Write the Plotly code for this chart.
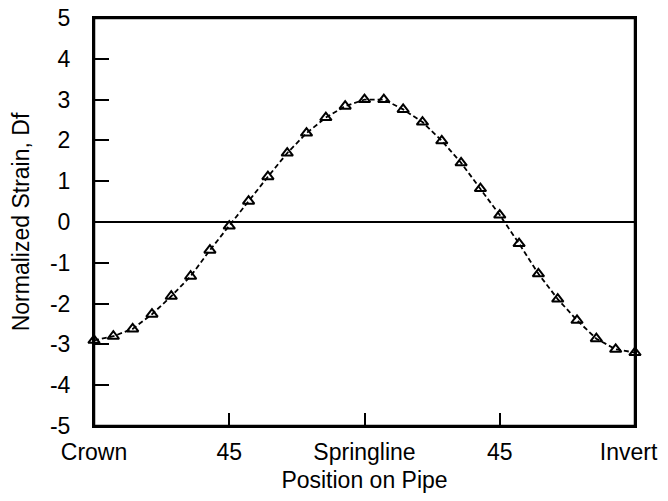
import plotly.graph_objects as go

# Position on pipe (degrees from crown), 29 equally spaced gauges
position_deg = [0, 6.43, 12.86, 19.29, 25.71, 32.14, 38.57, 45, 51.43, 57.86,
                64.29, 70.71, 77.14, 83.57, 90, 96.43, 102.86, 109.29, 115.71,
                122.14, 128.57, 135, 141.43, 147.86, 154.29, 160.71, 167.14,
                173.57, 180]
strain_df = [-2.9, -2.8, -2.62, -2.26, -1.82, -1.33, -0.69, -0.1, 0.51, 1.11,
             1.69, 2.18, 2.56, 2.84, 3.0, 3.0, 2.76, 2.45, 1.99, 1.45,
             0.82, 0.17, -0.53, -1.27, -1.89, -2.41, -2.86, -3.12, -3.2]

x_tick_vals = [0, 45, 90, 135, 180]
x_tick_text = ["Crown", "45", "Springline", "45", "Invert\u00a0\u00a0"]
y_tick_vals = [-5, -4, -3, -2, -1, 0, 1, 2, 3, 4, 5]
y_tick_text = ["-5", "-4", "-3", "-2", "-1", "0", "1", "2", "3", "4", "5"]

fig = go.Figure()
fig.add_trace(go.Scatter(
    x=position_deg, y=strain_df,
    mode="lines+markers",
    line=dict(color="black", width=1.8, dash="5px,3px"),
    marker=dict(symbol="triangle-up-open", size=10, color="black",
                line=dict(color="black", width=2)),
    cliponaxis=False,
    showlegend=False,
))

# plot frame
fig.add_shape(type="rect", xref="x domain", yref="y domain", x0=0, x1=1, y0=0, y1=1,
              line=dict(color="black", width=2.5), fillcolor="rgba(0,0,0,0)", layer="above")

font = "Liberation Sans, Arial, sans-serif"
# page body has an 8px default margin; figure sized so the page fits the 668x501 window
fig.update_layout(
    width=652, height=485,
    margin=dict(l=86, r=25, t=10, b=67),
    paper_bgcolor="white", plot_bgcolor="white",
    font=dict(family=font, size=23, color="black"),
    xaxis=dict(
        range=[0, 180], tickmode="array", tickvals=x_tick_vals, ticktext=x_tick_text,
        ticks="inside", ticklen=13, tickwidth=1.5, tickcolor="black",
        showline=True, linecolor="black", linewidth=2, mirror=True,
        showgrid=False, zeroline=False, automargin=False,
        ticklabeloverflow="allow",
        title=dict(text="Position on Pipe", standoff=14, font=dict(size=23)),
        ticklabelstandoff=4,
    ),
    yaxis=dict(
        range=[-5, 5], tickmode="array", tickvals=y_tick_vals, ticktext=y_tick_text,
        ticks="inside", ticklen=15, tickwidth=2, tickcolor="black",
        showline=True, linecolor="black", linewidth=2, mirror=True,
        showgrid=False, zeroline=True, zerolinecolor="black", zerolinewidth=2,
        automargin=False, ticklabeloverflow="allow",
        title=dict(text="Normalized Strain, Df", standoff=14, font=dict(size=23)),
        ticklabelstandoff=17,
    ),
)

fig.write_html("out.html")
